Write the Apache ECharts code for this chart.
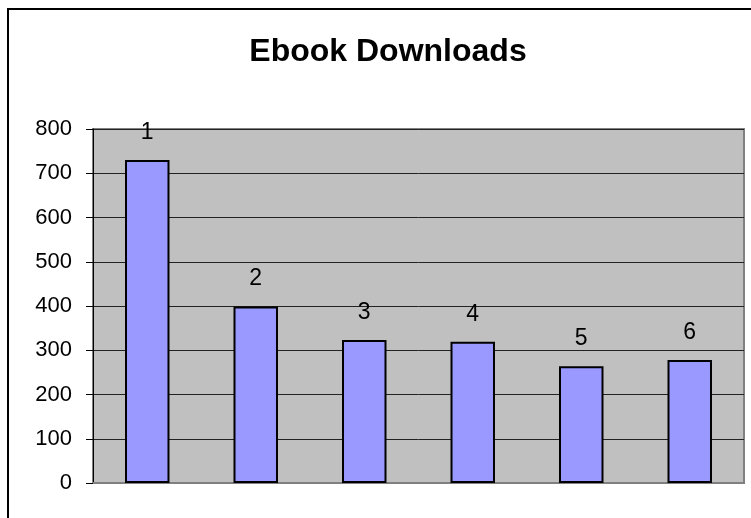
<!DOCTYPE html>
<html>
<head>
<meta charset="utf-8">
<script src="https://cdn.jsdelivr.net/npm/echarts@6/dist/echarts.min.js"></script>
<style>
html,body{margin:0;padding:0;background:#fff;}
#chart{width:751px;height:518px;}
</style>
</head>
<body>
<div id="chart"></div>
<script>
const categories = ['1', '2', '3', '4', '5', '6'];
const downloads = [730, 399, 323, 319, 264, 278];
const yTicks = [0, 100, 200, 300, 400, 500, 600, 700, 800];

const chart = echarts.init(document.getElementById('chart'), null, {renderer: 'canvas'});
chart.setOption({
  animation: false,
  backgroundColor: '#ffffff',
  textStyle: {fontFamily: 'Liberation Sans, Arial, sans-serif'},
  title: {
    text: 'Ebook Downloads',
    left: 383,
    top: 31,
    textAlign: 'center',
    textStyle: {fontSize: 32, fontWeight: 'bold', color: '#000', fontFamily: 'Liberation Sans, Arial, sans-serif'}
  },
  graphic: [{
    type: 'rect',
    shape: {x: 8, y: 9, width: 800, height: 600},
    style: {fill: 'none', stroke: '#000', lineWidth: 2},
    silent: true,
    z: 100
  }],
  grid: {
    left: 93, top: 129, right: 7, bottom: 35,
    show: true,
    backgroundColor: '#C0C0C0',
    borderColor: '#808080',
    borderWidth: 2,
    containLabel: false
  },
  xAxis: {
    type: 'category',
    data: categories,
    axisLine: {show: true, lineStyle: {color: '#808080', width: 2}},
    axisTick: {show: false},
    axisLabel: {show: false},
    splitLine: {show: false}
  },
  yAxis: {
    type: 'value',
    min: yTicks[0],
    max: yTicks[yTicks.length - 1],
    interval: yTicks[1] - yTicks[0],
    axisLine: {show: true, lineStyle: {color: '#000', width: 1}},
    axisTick: {show: true, length: 7, lineStyle: {color: '#000'}},
    axisLabel: {
      color: '#000', fontSize: 22, margin: 21,
      fontFamily: 'Liberation Sans, Arial, sans-serif'
    },
    splitLine: {show: true, lineStyle: {color: '#222', width: 1}}
  },
  series: [{
    type: 'bar',
    data: downloads,
    barWidth: '41%',
    itemStyle: {color: '#9999FF', borderColor: '#000', borderWidth: 2},
    label: {
      show: true,
      position: 'top',
      distance: 16,
      formatter: '{b}',
      color: '#000',
      fontSize: 23,
      fontFamily: 'Liberation Sans, Arial, sans-serif'
    }
  }]
});
</script>
</body>
</html>
